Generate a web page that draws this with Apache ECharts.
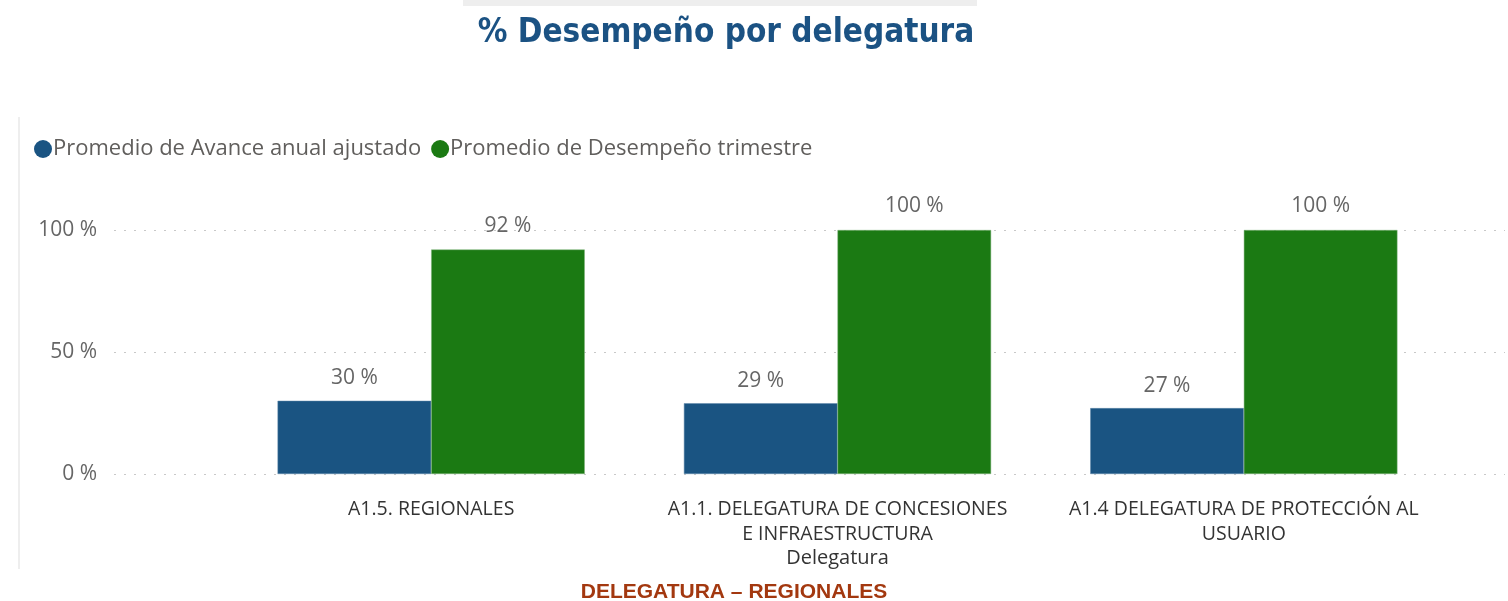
<!DOCTYPE html>
<html>
<head>
<meta charset="utf-8">
<script src="https://cdn.jsdelivr.net/npm/echarts@6/dist/echarts.min.js"></script>
<style>
  html, body { margin: 0; padding: 0; background: #fff; }
  #chart { width: 1508px; height: 601px; }
</style>
</head>
<body>
<div id="chart"></div>
<script>
// categorias (delegaturas)
const categories = [
  'A1.5. REGIONALES',
  'A1.1. DELEGATURA DE CONCESIONES\nE INFRAESTRUCTURA',
  'A1.4 DELEGATURA DE PROTECCIÓN AL\nUSUARIO'
];
const seriesNames = ['Promedio de Avance anual ajustado', 'Promedio de Desempeño trimestre'];
const avanceAnual = [30, 29, 27];
const desempenoTrimestre = [92, 100, 100];
const yTicks = [0, 50, 100];

const font = '"Open Sans", "Noto Sans", sans-serif';
const gridTop = 230, gridBottom = 127;

let myChart = echarts.init(document.getElementById('chart'));

let options = {
  animation: false,
  title: [
    {
      text: '% Desempeño por delegatura',
      left: 721, top: 12, textAlign: 'center',
      textStyle: { fontFamily: '"DejaVu Sans Condensed", "DejaVu Sans", sans-serif', fontWeight: 'bold', fontSize: 33, color: '#1b5283' }
    },
    {
      text: 'DELEGATURA – REGIONALES',
      left: 729, top: 577, textAlign: 'center',
      textStyle: { fontFamily: '"Liberation Sans", Arial, sans-serif', fontWeight: 'bold', fontSize: 21, color: '#a3380f' }
    }
  ],
  graphic: [
    { type: 'rect', shape: { x: 463, y: 0, width: 514, height: 6 }, style: { fill: '#eeeeee' } },
    { type: 'rect', shape: { x: 18, y: 117, width: 2, height: 452 }, style: { fill: '#eeeeee' } }
  ],
  legend: {
    left: 29, top: 133,
    icon: 'circle', itemWidth: 18, itemHeight: 18, itemGap: 10,
    itemStyle: { borderWidth: 0 },
    textStyle: { fontFamily: font, fontSize: 22, color: '#605e5c', padding: [0, 0, 0, -4] },
    data: seriesNames
  },
  grid: [
    { left: 228, right: 61, top: gridTop, bottom: gridBottom },
    { left: 114, right: 3, top: gridTop, bottom: gridBottom }
  ],
  xAxis: [
    {
      type: 'category', gridIndex: 0, data: categories,
      axisLine: { show: false }, axisTick: { show: false },
      axisLabel: { fontFamily: font, fontSize: 19.5, color: '#333333', lineHeight: 25, margin: 23, interval: 0 },
      name: 'Delegatura', nameLocation: 'middle', nameGap: 74,
      nameTextStyle: { fontFamily: font, fontSize: 20, color: '#333333' }
    },
    { type: 'value', gridIndex: 1, show: false, min: 0, max: 1 }
  ],
  yAxis: [
    { type: 'value', gridIndex: 0, min: 0, max: 100, interval: 50, show: false },
    {
      type: 'value', gridIndex: 1, min: yTicks[0], max: yTicks[yTicks.length - 1], interval: 50,
      axisLine: { show: false }, axisTick: { show: false },
      axisLabel: { fontFamily: font, fontSize: 21, color: '#666666', margin: 17, formatter: '{value} %' },
      splitLine: { lineStyle: { type: [2, 8], color: '#c8c8c8', width: 1 } }
    }
  ],
  series: [
    {
      name: seriesNames[0], type: 'bar', xAxisIndex: 0, yAxisIndex: 0,
      data: avanceAnual,
      barGap: '0%', barCategoryGap: '24.4%',
      itemStyle: { color: '#1a5482', borderColor: '#5e86a8', borderWidth: 0.5 },
      label: { show: true, position: 'top', distance: 12, formatter: '{c} %', fontFamily: font, fontSize: 21, color: '#666666' }
    },
    {
      name: seriesNames[1], type: 'bar', xAxisIndex: 0, yAxisIndex: 0,
      data: desempenoTrimestre,
      barGap: '0%', barCategoryGap: '24.4%',
      itemStyle: { color: '#1b7a13', borderColor: '#7fb27a', borderWidth: 0.5 },
      label: { show: true, position: 'top', distance: 13, formatter: '{c} %', fontFamily: font, fontSize: 21, color: '#666666' }
    }
  ]
};

myChart.setOption(options);
</script>
</body>
</html>
